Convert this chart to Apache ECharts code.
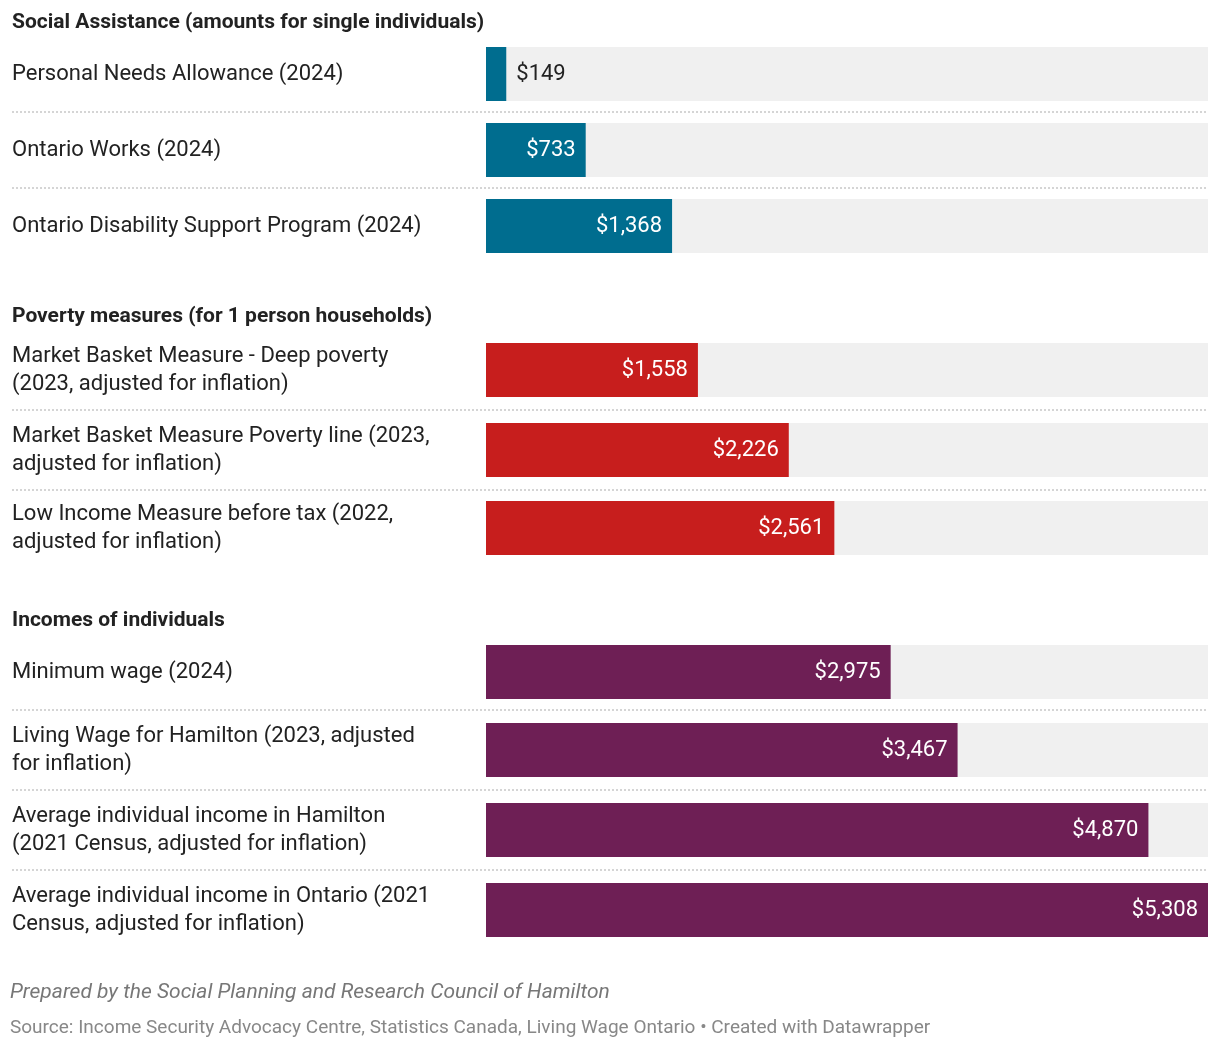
<!DOCTYPE html>
<html><head><meta charset="utf-8">
<script src="https://cdn.jsdelivr.net/npm/echarts@6/dist/echarts.min.js"></script>
<style>html,body{margin:0;background:#fff}#c{width:1220px;height:1054px}</style>
</head><body><div id="c"></div>
<script>
const categories = [
 "Personal Needs Allowance (2024)",
 "Ontario Works (2024)",
 "Ontario Disability Support Program (2024)",
 "Market Basket Measure - Deep poverty\n(2023, adjusted for inflation)",
 "Market Basket Measure Poverty line (2023,\nadjusted for inflation)",
 "Low Income Measure before tax (2022,\nadjusted for inflation)",
 "Minimum wage (2024)",
 "Living Wage for Hamilton (2023, adjusted\nfor inflation)",
 "Average individual income in Hamilton\n(2021 Census, adjusted for inflation)",
 "Average individual income in Ontario (2021\nCensus, adjusted for inflation)"
];
const values = [149, 733, 1368, 1558, 2226, 2561, 2975, 3467, 4870, 5308];
const groupOf = [0,0,0,1,1,1,2,2,2,2];
const groupTitles = ["Social Assistance (amounts for single individuals)", "Poverty measures (for 1 person households)", "Incomes of individuals"];
const groupColors = ["#006d8f", "#c71e1d", "#6e1f55"];
const centers = [74,150,226,370,450,528,672,750,830,910];
const titleY = [24,318,622];
const sepY = [112,188,410,490,710,790,870];
const maxV = 5308;
const font = "Roboto";

const grids=[], xAxes=[], yAxes=[], series=[];
values.forEach((v,i)=>{
  grids.push({left:486, width:722, top:centers[i]-27, height:54});
  xAxes.push({gridIndex:i, type:'value', min:0, max:maxV, show:false});
  yAxes.push({gridIndex:i, type:'category', data:[categories[i]], axisLine:{show:false}, axisTick:{show:false},
    axisLabel:{align:'left', margin:474, fontFamily:font, fontSize:22, color:'#222', lineHeight:28}});
  series.push({type:'bar', xAxisIndex:i, yAxisIndex:i, data:[v], barWidth:54, silent:true,
    itemStyle:{color:groupColors[groupOf[i]]},
    showBackground:true, backgroundStyle:{color:'#f0f0f0'},
    label:{show:true, position: v<400?'right':'insideRight', distance:10,
      color: v<400?'#222':'#fff', fontFamily:font, fontSize:22,
      formatter:p=>'$'+p.value.toLocaleString('en-US')}});
});
const graphic=[];
groupTitles.forEach((t,g)=>graphic.push({type:'text', left:12, top:titleY[g]-12, style:{text:t, fontFamily:font, fontSize:21, fontWeight:'bold', fill:'#222'}}));
sepY.forEach(y=>graphic.push({type:'line', shape:{x1:12,y1:y,x2:1208,y2:y}, style:{stroke:'#c8c8c8', lineWidth:1.5, lineDash:[2,2]}}));
graphic.push({type:'text', left:10, top:982, style:{text:'Prepared by the Social Planning and Research Council of Hamilton', fontFamily:font, fontSize:21, fontStyle:'italic', fill:'#777'}});
graphic.push({type:'text', left:10, top:1019, style:{text:'Source: Income Security Advocacy Centre, Statistics Canada, Living Wage Ontario • Created with Datawrapper', fontFamily:font, fontSize:19, fill:'#888'}});
const chart=echarts.init(document.getElementById('c'));
chart.setOption({animation:false, grid:grids, xAxis:xAxes, yAxis:yAxes, series, graphic});
</script></body></html>
